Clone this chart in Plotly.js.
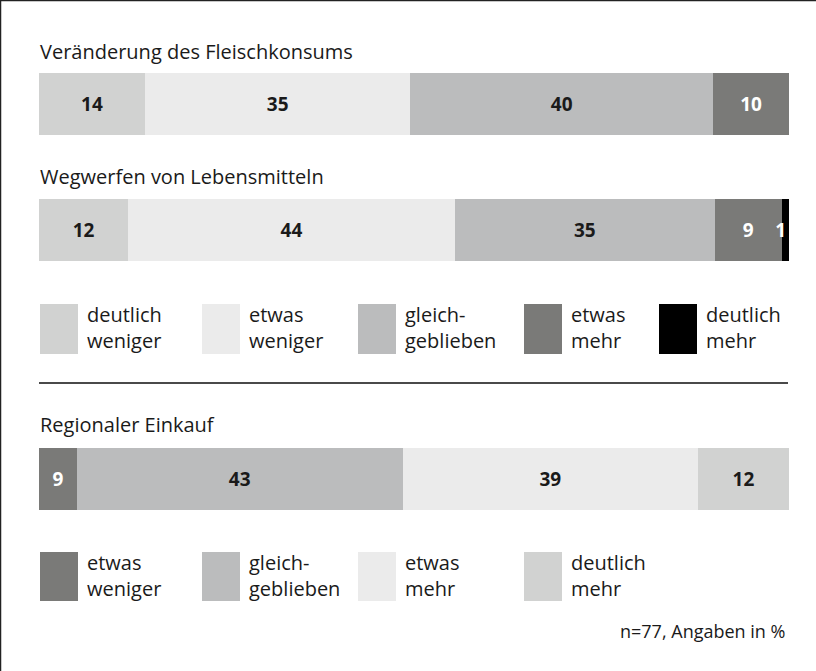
<!DOCTYPE html>
<html>
<head>
<meta charset="utf-8">
<script src="https://cdn.plot.ly/plotly-3.0.1.min.js"></script>
<style>
  html, body { margin: 0; padding: 0; background: #ffffff; }
  #chart { width: 816px; height: 671px; }
</style>
</head>
<body>
<div id="chart"></div>
<script>
// ---------------- DATA ----------------
const panelTitles = ['Veränderung des Fleischkonsums', 'Wegwerfen von Lebensmitteln', 'Regionaler Einkauf'];

// categories for the first two bars (and first legend)
const changeCategories = ['deutlich weniger', 'etwas weniger', 'gleichgeblieben', 'etwas mehr', 'deutlich mehr'];
const changeLegendLabels = ['deutlich<br>weniger', 'etwas<br>weniger', 'gleich-<br>geblieben', 'etwas<br>mehr', 'deutlich<br>mehr'];

// values in %
const fleischkonsum = [14, 35, 40, 10, 0];
const wegwerfen = [12, 44, 35, 9, 1];

// regional shopping: categories (second legend)
const regionalCategories = ['etwas weniger', 'gleichgeblieben', 'etwas mehr', 'deutlich mehr'];
const regionalLegendLabels = ['etwas<br>weniger', 'gleich-<br>geblieben', 'etwas<br>mehr', 'deutlich<br>mehr'];
// printed labels and the segment lengths as drawn in the picture
const regionalLabels = [9, 43, 39, 12];
const regionalValues = [5, 43, 39, 12];

const footnote = 'n=77, Angaben in %';

// ---------------- STYLE ----------------
const colorByCategory = {
  'deutlich weniger': '#d1d2d1',
  'etwas weniger': '#ebebeb',
  'gleichgeblieben': '#bbbcbd',
  'etwas mehr': '#7a7a78',
  'deutlich mehr': '#000000'
};
const regionalColors = ['#7a7a78', '#bbbcbd', '#ebebeb', '#d1d2d1'];
const darkText = '#1a1a1a';
const FONT = '"Open Sans", "DejaVu Sans", sans-serif';

const W = 816, H = 671;
const px = x => x / W;
const py = y => 1 - y / H;

// bar rows (pixel top/bottom)
const rows = [[73, 135], [199, 261], [448, 510]];
const barLeft = 39, barRight = 789;

function textColorFor(col) {
  return (col === '#7a7a78' || col === '#000000') ? '#ffffff' : darkText;
}

const traces = [];
function addRow(rowIndex, cats, values, labels, colors) {
  const yName = rowIndex === 0 ? 'y' : 'y' + (rowIndex + 1);
  cats.forEach((c, i) => {
    if (!values[i]) return;
    traces.push({
      type: 'bar',
      orientation: 'h',
      x: [values[i]],
      y: [panelTitles[rowIndex]],
      name: c,
      xaxis: 'x',
      yaxis: yName,
      width: [1],
      marker: { color: colors[i], line: { width: 0 } },
      text: [String(labels[i])],
      textposition: 'inside',
      insidetextanchor: (i === cats.length - 1 && rowIndex === 1) ? 'end' : 'middle',
      textangle: 0,
      constraintext: 'none',
      textfont: { family: FONT, size: 19, color: textColorFor(colors[i]), weight: 700 },
      hoverinfo: 'skip',
      showlegend: false
    });
  });
}

addRow(0, changeCategories, fleischkonsum, fleischkonsum, changeCategories.map(c => colorByCategory[c]));
addRow(1, changeCategories, wegwerfen, wegwerfen, changeCategories.map(c => colorByCategory[c]));
addRow(2, regionalCategories, regionalValues, regionalLabels, regionalColors);

// ---------------- LAYOUT ----------------
const shapes = [];
const annotations = [];

// frame (top and left edge)
shapes.push({ type: 'line', xref: 'paper', yref: 'paper', x0: px(0.5), x1: px(0.5), y0: py(0), y1: py(H), line: { color: '#222', width: 1.5 } });
shapes.push({ type: 'line', xref: 'paper', yref: 'paper', x0: px(0), x1: px(W), y0: py(0.5), y1: py(0.5), line: { color: '#222', width: 1.5 } });

// panel titles
const titleCenters = [52, 177, 424];
panelTitles.forEach((t, i) => {
  annotations.push({
    text: t, xref: 'paper', yref: 'paper', x: px(barLeft - 1), y: py(titleCenters[i]),
    xanchor: 'left', yanchor: 'middle', showarrow: false,
    font: { family: FONT, size: 20, color: darkText }
  });
});

// legends
function addLegend(labels, colors, xs, top, bottom) {
  labels.forEach((lab, i) => {
    shapes.push({
      type: 'rect', xref: 'paper', yref: 'paper',
      x0: px(xs[i]), x1: px(xs[i] + 38), y0: py(bottom), y1: py(top),
      fillcolor: colors[i], line: { width: 0 }
    });
    annotations.push({
      text: lab, xref: 'paper', yref: 'paper', x: px(xs[i] + 45), y: py((top + bottom) / 2 - 1),
      xanchor: 'left', yanchor: 'middle', align: 'left', showarrow: false,
      font: { family: FONT, size: 20, color: darkText }
    });
  });
}
addLegend(changeLegendLabels, changeCategories.map(c => colorByCategory[c]), [40, 202, 358, 524, 659], 304, 354);
addLegend(regionalLegendLabels, regionalColors, [40, 202, 358, 524], 552, 601);

// separator
shapes.push({ type: 'line', xref: 'paper', yref: 'paper', x0: px(39), x1: px(788), y0: py(383), y1: py(383), line: { color: '#4a4a4a', width: 2 } });

// footnote
annotations.push({
  text: footnote, xref: 'paper', yref: 'paper', x: px(787), y: py(631),
  xanchor: 'right', yanchor: 'middle', showarrow: false,
  font: { family: FONT, size: 18, color: darkText }
});

const hiddenY = d => ({ domain: [py(d[1]), py(d[0])], visible: false, range: [-0.5, 0.5], fixedrange: true, type: 'category' });

const layout = {
  width: W, height: H,
  margin: { l: 0, r: 0, t: 0, b: 0, pad: 0 },
  paper_bgcolor: '#ffffff', plot_bgcolor: 'rgba(0,0,0,0)',
  barmode: 'stack', barnorm: 'percent', bargap: 0,
  showlegend: false,
  uniformtext: { mode: 'show', minsize: 19 },
  xaxis: { domain: [px(barLeft), px(barRight)], range: [0, 100], visible: false, fixedrange: true },
  yaxis: hiddenY(rows[0]),
  yaxis2: hiddenY(rows[1]),
  yaxis3: hiddenY(rows[2]),
  shapes: shapes,
  annotations: annotations,
  font: { family: FONT }
};

Plotly.newPlot('chart', traces, layout, { displayModeBar: false, staticPlot: true });
</script>
</body>
</html>
